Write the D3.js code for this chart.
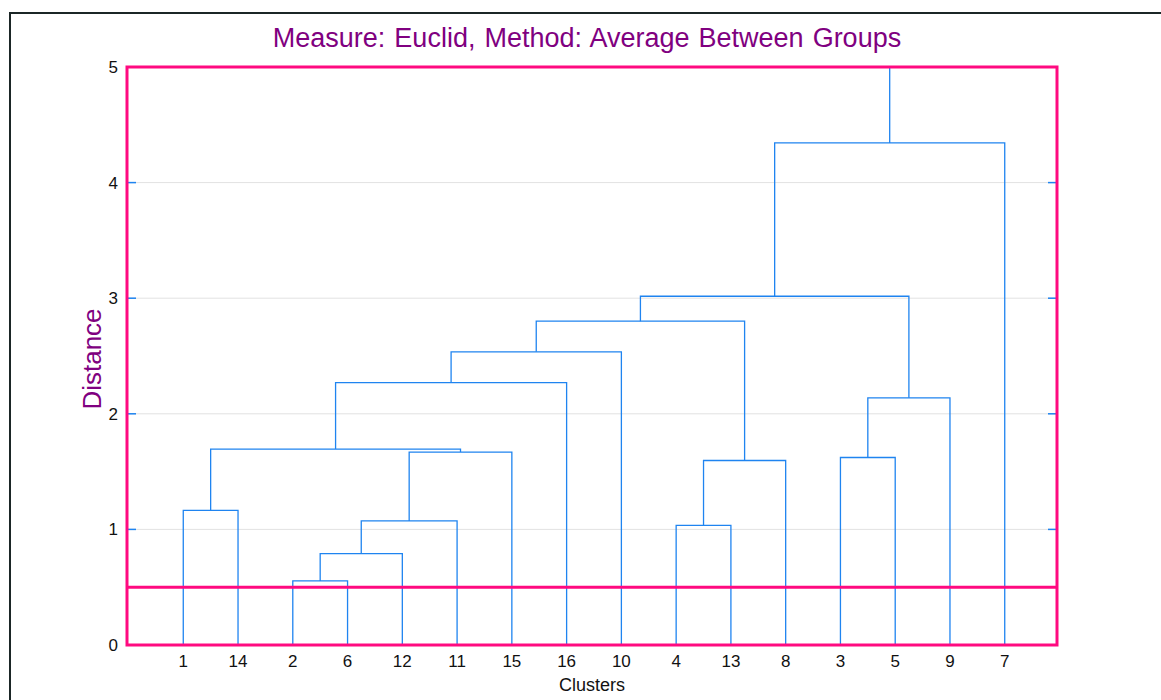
<!DOCTYPE html>
<html>
<head>
<meta charset="utf-8">
<script src="https://cdn.jsdelivr.net/npm/d3@7"></script>
<style>
  html, body { margin: 0; padding: 0; background: #fff; }
  svg { display: block; font-family: "Liberation Sans", Arial, sans-serif; }
</style>
</head>
<body>
<svg id="chart" width="1161" height="700"></svg>
<script>
// Leaf order along the horizontal axis
const leaves = ["1", "14", "2", "6", "12", "11", "15", "16", "10", "4", "13", "8", "3", "5", "9", "7"];

// Agglomeration steps: children ("#k" = result of step k, otherwise a leaf) and joining distance
const mergeLeft   = ["2",    "#0", "#1",  "#2",  "1",   "#4",  "#5", "#6",  "4",    "#8",  "#7",  "3",   "#11", "#10", "#13"];
const mergeRight  = ["6",    "12", "11",  "15",  "14",  "#3",  "16", "10",  "13",   "8",   "#9",  "5",   "9",   "#12", "7"];
const mergeHeight = [0.554, 0.79, 1.073, 1.669, 1.164, 1.695, 2.27, 2.536, 1.035, 1.596, 2.801, 1.622, 2.138, 3.017, 4.343];

const yTicks = [0, 1, 2, 3, 4, 5];
const cutDistance = 0.5;
const yMax = 5;

const titleText = "Measure: Euclid, Method: Average Between Groups";
const xTitle = "Clusters";
const yTitle = "Distance";

const svg = d3.select("#chart");
const box = { left: 127, right: 1057, top: 67, bottom: 645 };

const y = d3.scaleLinear().domain([0, yMax]).range([box.bottom, box.top]);
const x = d3.scaleLinear().domain([-1, leaves.length]).range([128.5, 1059.5]);

const pink = "#ff0a80";
const blue = "#1f84f0";

// Outer panel border
svg.append("path")
  .attr("d", "M10,700 V13 H1161")
  .attr("fill", "none").attr("stroke", "#1b2626").attr("stroke-width", 2);

// Horizontal grid
svg.append("g").selectAll("line")
  .data(yTicks.filter(t => t > 0 && t < yMax))
  .join("line")
  .attr("x1", box.left).attr("x2", box.right)
  .attr("y1", d => y(d)).attr("y2", d => y(d))
  .attr("stroke", "#e2e2e2").attr("stroke-width", 1);

// Node positions
const nodeX = {};
const nodeH = {};
leaves.forEach((l, i) => { nodeX[l] = x(i); nodeH[l] = 0; });
const links = [];
mergeLeft.forEach((a, k) => {
  const b = mergeRight[k];
  const h = mergeHeight[k];
  const xa = nodeX[a], xb = nodeX[b];
  links.push({ xa, xb, ha: nodeH[a], hb: nodeH[b], h });
  nodeX["#" + k] = (xa + xb) / 2;
  nodeH["#" + k] = h;
});
const rootKey = "#" + (mergeLeft.length - 1);

const g = svg.append("g")
  .attr("fill", "none").attr("stroke", blue).attr("stroke-width", 1.3);
g.selectAll("path").data(links).join("path")
  .attr("d", d => `M${d.xa},${y(d.ha)} V${y(d.h)} H${d.xb} V${y(d.hb)}`);
// Stem above the final join
g.append("line")
  .attr("x1", nodeX[rootKey]).attr("x2", nodeX[rootKey])
  .attr("y1", y(nodeH[rootKey])).attr("y2", y(yMax));

// Inner tick marks on left and right edges
const tk = svg.append("g").attr("stroke", blue).attr("stroke-width", 1.5);
tk.selectAll(".tl").data(yTicks).join("line").attr("class", "tl")
  .attr("x1", box.left).attr("x2", box.left + 9)
  .attr("y1", d => y(d)).attr("y2", d => y(d));
tk.selectAll(".tr").data(yTicks).join("line").attr("class", "tr")
  .attr("x1", box.right - 9).attr("x2", box.right)
  .attr("y1", d => y(d)).attr("y2", d => y(d));

// Cut line
svg.append("line")
  .attr("x1", box.left).attr("x2", box.right)
  .attr("y1", y(cutDistance)).attr("y2", y(cutDistance))
  .attr("stroke", pink).attr("stroke-width", 3);

// Plot frame
svg.append("rect")
  .attr("x", box.left).attr("y", box.top)
  .attr("width", box.right - box.left).attr("height", box.bottom - box.top)
  .attr("fill", "none").attr("stroke", pink).attr("stroke-width", 3);

// Y tick labels
svg.append("g").selectAll("text").data(yTicks).join("text")
  .attr("x", 118).attr("y", d => y(d) + 6)
  .attr("text-anchor", "end").attr("font-size", 17).attr("fill", "#111")
  .text(d => d);

// X tick labels
svg.append("g").selectAll("text").data(leaves).join("text")
  .attr("x", (d, i) => x(i)).attr("y", 667)
  .attr("text-anchor", "middle").attr("font-size", 17).attr("fill", "#111")
  .text(d => d);

// Titles
svg.append("text")
  .attr("x", 587).attr("y", 47)
  .attr("text-anchor", "middle").attr("font-size", 27)
  .attr("word-spacing", 1.5).attr("fill", "#800080")
  .text(titleText);

svg.append("text")
  .attr("x", 592).attr("y", 691)
  .attr("text-anchor", "middle").attr("font-size", 18).attr("fill", "#111")
  .text(xTitle);

svg.append("text")
  .attr("transform", "translate(101,359) rotate(-90)")
  .attr("text-anchor", "middle").attr("font-size", 26).attr("fill", "#800080")
  .text(yTitle);
</script>
</body>
</html>
